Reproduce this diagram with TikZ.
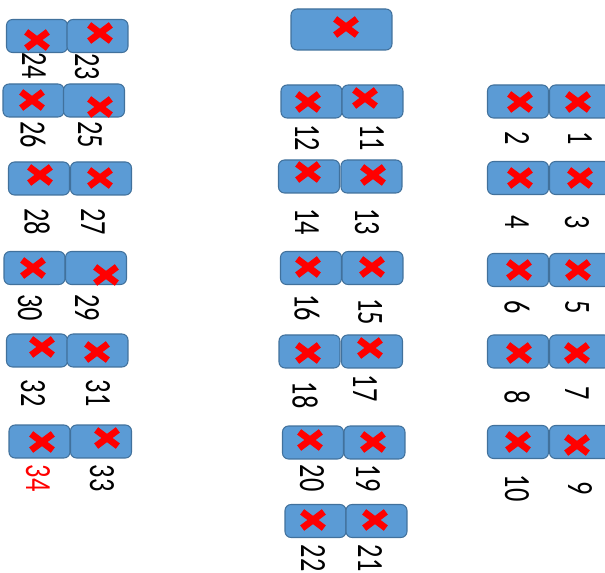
\documentclass[tikz,border=0pt]{standalone}
\usepackage{fontspec}
\usepackage{graphicx}
\usepackage{tikz}
\usetikzlibrary{shapes.misc, positioning}
\newfontfamily\seatfont{Carlito}
\newcommand{\seatnum}[1]{\scalebox{1}[1.4]{#1}}
\definecolor{seatblue}{RGB}{91,155,213}
\definecolor{seatedge}{RGB}{65,113,156}
\definecolor{markred}{RGB}{255,0,0}
\tikzset{
    seatbox/.style={rectangle, draw=seatedge, fill=seatblue, rounded corners=3.4pt, minimum width=1.22cm, minimum height=0.66cm, inner sep=0pt, line width=0.6pt},
    seatmark/.style={cross out, draw=markred, line width=3.8pt, minimum width=0.3cm, minimum height=0.19cm, inner sep=0pt},
    seatno/.style={rotate=-90, inner sep=0pt, font=\seatfont\fontsize{15}{15}\selectfont, text=#1},
    seatno/.default=black
}

\begin{document}
\begin{tikzpicture}[x=0.02cm, y=-0.02cm]

\useasboundingbox (0,0) rectangle (605,573);
\clip (0,0) rectangle (605,573);

\node[seatbox, minimum width=2.02cm, minimum height=0.82cm] (front) at (341.5,29.5) {};
\node[seatmark] (xfront) at (346,27) {};

\node[seatbox] (s24) at (37,36) {};
\node[seatbox] (s23) at (97.5,36) {};
\node[seatbox] (s26) at (33.5,100.5) {};
\node[seatbox] (s25) at (94,100.5) {};
\node[seatbox] (s28) at (39,178.5) {};
\node[seatbox] (s27) at (101,178.5) {};
\node[seatbox] (s30) at (34.5,268) {};
\node[seatbox] (s29) at (96,268) {};
\node[seatbox] (s32) at (37,350.5) {};
\node[seatbox] (s31) at (97.5,350.5) {};
\node[seatbox] (s34) at (39.5,441.5) {};
\node[seatbox] (s33) at (101,441.5) {};

\node[seatbox] (s12) at (311.5,101.5) {};
\node[seatbox] (s11) at (372.5,101.5) {};
\node[seatbox] (s14) at (309,176.5) {};
\node[seatbox] (s13) at (371.5,176.5) {};
\node[seatbox] (s16) at (311,268) {};
\node[seatbox] (s15) at (372.5,268) {};
\node[seatbox] (s18) at (309.5,351.5) {};
\node[seatbox] (s17) at (372,351.5) {};
\node[seatbox] (s20) at (313,442.5) {};
\node[seatbox] (s19) at (374.5,442.5) {};
\node[seatbox] (s22) at (315.5,521) {};
\node[seatbox] (s21) at (376.5,521) {};

\node[seatbox] (s2) at (518,101.5) {};
\node[seatbox] (s1) at (580,101.5) {};
\node[seatbox] (s4) at (518,178) {};
\node[seatbox] (s3) at (580,178) {};
\node[seatbox] (s6) at (518,270) {};
\node[seatbox] (s5) at (580,270) {};
\node[seatbox] (s8) at (518,351.5) {};
\node[seatbox] (s7) at (580,351.5) {};
\node[seatbox] (s10) at (518,442) {};
\node[seatbox] (s9) at (580,442) {};

\node[seatmark] (x24) at (37,40) {};
\node[seatmark] (x23) at (100,33) {};
\node[seatmark] (x26) at (32,100) {};
\node[seatmark] (x25) at (100,107) {};
\node[seatmark] (x28) at (40,175) {};
\node[seatmark] (x27) at (100,178) {};
\node[seatmark] (x30) at (33,268) {};
\node[seatmark] (x29) at (106,275) {};
\node[seatmark] (x32) at (42,347) {};
\node[seatmark] (x31) at (97,352) {};
\node[seatmark] (x34) at (42,442) {};
\node[seatmark] (x33) at (107,438) {};

\node[seatmark] (x12) at (308,102) {};
\node[seatmark] (x11) at (365,98) {};
\node[seatmark] (x14) at (308,172) {};
\node[seatmark] (x13) at (373,175) {};
\node[seatmark] (x16) at (308,267) {};
\node[seatmark] (x15) at (372,267) {};
\node[seatmark] (x18) at (308,353) {};
\node[seatmark] (x17) at (370,348) {};
\node[seatmark] (x20) at (310,440) {};
\node[seatmark] (x19) at (373,442) {};
\node[seatmark] (x22) at (313,520) {};
\node[seatmark] (x21) at (375,520) {};

\node[seatmark] (x2) at (520,102) {};
\node[seatmark] (x1) at (578,102) {};
\node[seatmark] (x4) at (520,178) {};
\node[seatmark] (x3) at (580,178) {};
\node[seatmark] (x6) at (519,270) {};
\node[seatmark] (x5) at (578,270) {};
\node[seatmark] (x8) at (519,353) {};
\node[seatmark] (x7) at (577,353) {};
\node[seatmark] (x10) at (518,442) {};
\node[seatmark] (x9) at (577,445) {};

\node[seatno] (n24) at (34,66) {\seatnum{24}};
\node[seatno] (n23) at (87,67) {\seatnum{23}};
\node[seatno] (n26) at (33,135) {\seatnum{26}};
\node[seatno] (n25) at (90,135) {\seatnum{25}};
\node[seatno] (n28) at (37,222) {\seatnum{28}};
\node[seatno] (n27) at (93,222) {\seatnum{27}};
\node[seatno] (n30) at (30,308) {\seatnum{30}};
\node[seatno] (n29) at (87,308) {\seatnum{29}};
\node[seatno] (n32) at (33,393) {\seatnum{32}};
\node[seatno] (n31) at (98,393) {\seatnum{31}};
\node[seatno=markred] (n34) at (38,478) {\seatnum{34}};
\node[seatno] (n33) at (102,478) {\seatnum{33}};

\node[seatno] (n12) at (307,138) {\seatnum{12}};
\node[seatno] (n11) at (372,138) {\seatnum{11}};
\node[seatno] (n14) at (307,222) {\seatnum{14}};
\node[seatno] (n13) at (367,222) {\seatnum{13}};
\node[seatno] (n16) at (307,308) {\seatnum{16}};
\node[seatno] (n15) at (370,312) {\seatnum{15}};
\node[seatno] (n18) at (305,395) {\seatnum{18}};
\node[seatno] (n17) at (365,388) {\seatnum{17}};
\node[seatno] (n20) at (312,478) {\seatnum{20}};
\node[seatno] (n19) at (368,478) {\seatnum{19}};
\node[seatno] (n22) at (313,558) {\seatnum{22}};
\node[seatno] (n21) at (370,558) {\seatnum{21}};

\node[seatno] (n2) at (517,138) {\seatnum{2}};
\node[seatno] (n1) at (580,138) {\seatnum{1}};
\node[seatno] (n4) at (517,222) {\seatnum{4}};
\node[seatno] (n3) at (577,222) {\seatnum{3}};
\node[seatno] (n6) at (517,307) {\seatnum{6}};
\node[seatno] (n5) at (577,307) {\seatnum{5}};
\node[seatno] (n8) at (517,397) {\seatnum{8}};
\node[seatno] (n7) at (577,393) {\seatnum{7}};
\node[seatno] (n10) at (517,488) {\seatnum{10}};
\node[seatno] (n9) at (580,488) {\seatnum{9}};

\end{tikzpicture}
\end{document}
